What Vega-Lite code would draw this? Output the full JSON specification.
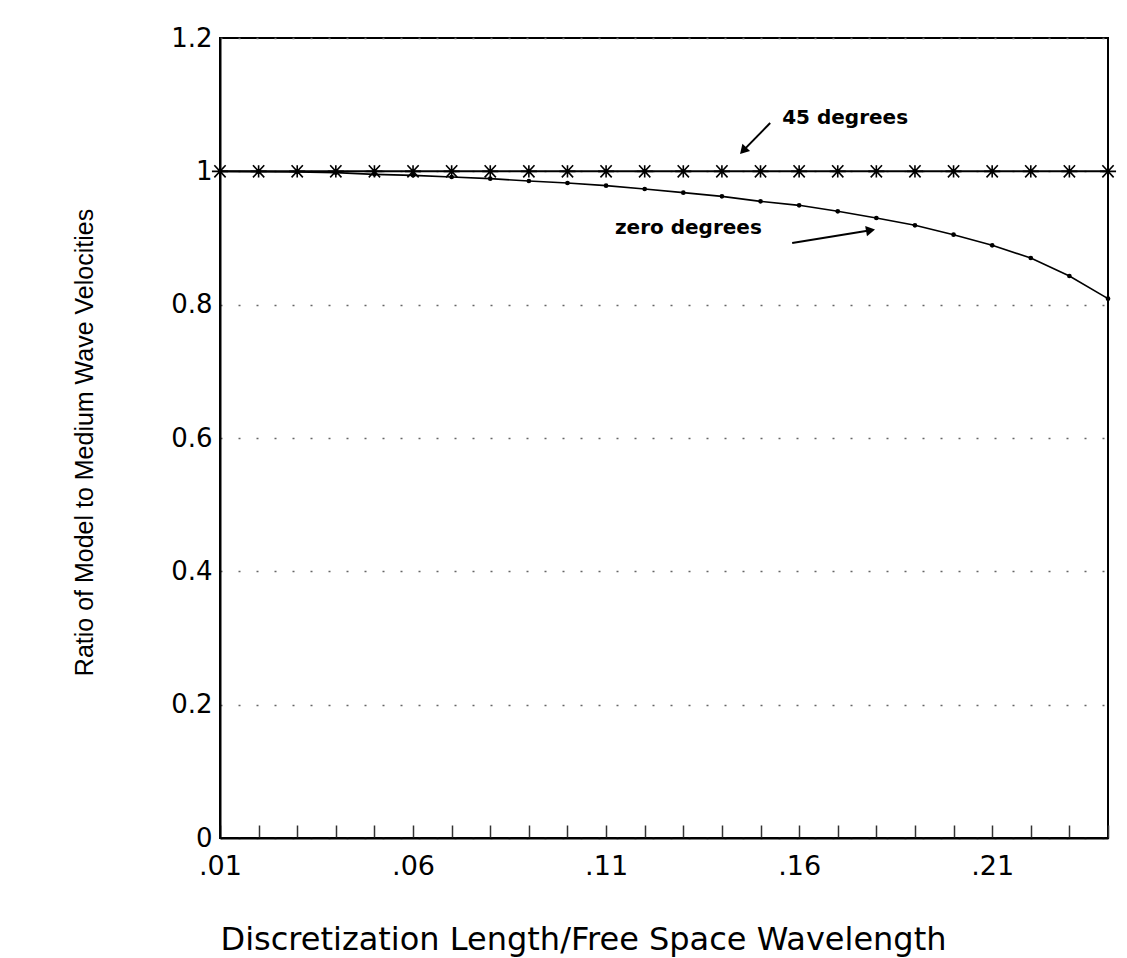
{
  "$schema": "https://vega.github.io/schema/vega-lite/v6.json",
  "width": 888,
  "height": 800,
  "autosize": {"type": "none"},
  "padding": {"left": 220, "top": 38, "right": 19, "bottom": 120},
  "background": "white",
  "config": {
    "view": {"stroke": "black", "strokeWidth": 2},
    "axis": {"domainColor": "black", "domainWidth": 2, "labelColor": "black", "titleColor": "black", "labelFont": "DejaVu Sans", "labelFontSize": 27, "titleFontWeight": "normal"}
  },
  "datasets": {
    "curves": [
      {"x": 0.01, "y": 1.0, "series": "45 degrees"},
      {"x": 0.02, "y": 1.0, "series": "45 degrees"},
      {"x": 0.03, "y": 1.0, "series": "45 degrees"},
      {"x": 0.04, "y": 1.0, "series": "45 degrees"},
      {"x": 0.05, "y": 1.0, "series": "45 degrees"},
      {"x": 0.06, "y": 1.0, "series": "45 degrees"},
      {"x": 0.07, "y": 1.0, "series": "45 degrees"},
      {"x": 0.08, "y": 1.0, "series": "45 degrees"},
      {"x": 0.09, "y": 1.0, "series": "45 degrees"},
      {"x": 0.10, "y": 1.0, "series": "45 degrees"},
      {"x": 0.11, "y": 1.0, "series": "45 degrees"},
      {"x": 0.12, "y": 1.0, "series": "45 degrees"},
      {"x": 0.13, "y": 1.0, "series": "45 degrees"},
      {"x": 0.14, "y": 1.0, "series": "45 degrees"},
      {"x": 0.15, "y": 1.0, "series": "45 degrees"},
      {"x": 0.16, "y": 1.0, "series": "45 degrees"},
      {"x": 0.17, "y": 1.0, "series": "45 degrees"},
      {"x": 0.18, "y": 1.0, "series": "45 degrees"},
      {"x": 0.19, "y": 1.0, "series": "45 degrees"},
      {"x": 0.20, "y": 1.0, "series": "45 degrees"},
      {"x": 0.21, "y": 1.0, "series": "45 degrees"},
      {"x": 0.22, "y": 1.0, "series": "45 degrees"},
      {"x": 0.23, "y": 1.0, "series": "45 degrees"},
      {"x": 0.24, "y": 1.0, "series": "45 degrees"},
      {"x": 0.01, "y": 1.0, "series": "zero degrees"},
      {"x": 0.02, "y": 0.9995, "series": "zero degrees"},
      {"x": 0.03, "y": 0.999, "series": "zero degrees"},
      {"x": 0.04, "y": 0.998, "series": "zero degrees"},
      {"x": 0.05, "y": 0.9955, "series": "zero degrees"},
      {"x": 0.06, "y": 0.994, "series": "zero degrees"},
      {"x": 0.07, "y": 0.9915, "series": "zero degrees"},
      {"x": 0.08, "y": 0.989, "series": "zero degrees"},
      {"x": 0.09, "y": 0.9855, "series": "zero degrees"},
      {"x": 0.10, "y": 0.9825, "series": "zero degrees"},
      {"x": 0.11, "y": 0.9785, "series": "zero degrees"},
      {"x": 0.12, "y": 0.9735, "series": "zero degrees"},
      {"x": 0.13, "y": 0.968, "series": "zero degrees"},
      {"x": 0.14, "y": 0.9625, "series": "zero degrees"},
      {"x": 0.15, "y": 0.955, "series": "zero degrees"},
      {"x": 0.16, "y": 0.949, "series": "zero degrees"},
      {"x": 0.17, "y": 0.94, "series": "zero degrees"},
      {"x": 0.18, "y": 0.93, "series": "zero degrees"},
      {"x": 0.19, "y": 0.919, "series": "zero degrees"},
      {"x": 0.20, "y": 0.905, "series": "zero degrees"},
      {"x": 0.21, "y": 0.889, "series": "zero degrees"},
      {"x": 0.22, "y": 0.870, "series": "zero degrees"},
      {"x": 0.23, "y": 0.843, "series": "zero degrees"},
      {"x": 0.24, "y": 0.809, "series": "zero degrees"}
    ],
    "arrows": [
      {"x": 0.1525, "y": 1.0725, "x2": 0.1455, "y2": 1.031, "angle": 223},
      {"x": 0.1582, "y": 0.8925, "x2": 0.1785, "y2": 0.9115, "angle": 80}
    ],
    "notes": [
      {"x": 0.1556, "y": 1.08, "label": "45 degrees"},
      {"x": 0.1123, "y": 0.915, "label": "zero degrees"}
    ]
  },
  "encoding": {
    "x": {
      "field": "x", "type": "quantitative",
      "scale": {"domain": [0.01, 0.24], "nice": false, "zero": false},
      "axis": {
        "values": [0.01,0.02,0.03,0.04,0.05,0.06,0.07,0.08,0.09,0.10,0.11,0.12,0.13,0.14,0.15,0.16,0.17,0.18,0.19,0.20,0.21,0.22,0.23,0.24],
        "labelExpr": "indexof(['0.01','0.06','0.11','0.16','0.21'], format(datum.value,'.2f')) >= 0 ? replace(format(datum.value,'.2f'),'0.','.') : ''",
        "tickSize": -13, "tickColor": "#333", "tickWidth": 1.5,
        "labelPadding": 28, "labelBaseline": "top", "labelFlush": false,
        "grid": false,
        "title": "Discretization Length/Free Space Wavelength",
        "titleFont": "DejaVu Sans", "titleFontSize": 32,
        "titleAnchor": "start", "titleAlign": "left", "titleX": 0, "titleY": 111, "titleBaseline": "alphabetic"
      }
    },
    "y": {
      "field": "y", "type": "quantitative",
      "scale": {"domain": [0, 1.2], "nice": false},
      "axis": {
        "values": [0, 0.2, 0.4, 0.6, 0.8, 1, 1.2],
        "format": "~g",
        "ticks": false, "labelPadding": 8, "labelFontSize": 26,
        "grid": true, "gridColor": "#666", "gridDash": [2, 16], "gridWidth": 1.5,
        "title": "Ratio of Model to Medium Wave Velocities",
        "titleFont": "Liberation Sans", "titleFontSize": 25,
        "titleAngle": -90, "titleAlign": "center", "titleBaseline": "alphabetic",
        "titleX": -128, "titleY": 404
      }
    }
  },
  "layer": [
    {
      "data": {"name": "curves"},
      "transform": [{"filter": "datum.series == '45 degrees'"}],
      "mark": {"type": "line", "color": "black", "strokeWidth": 2}
    },
    {
      "data": {"name": "curves"},
      "transform": [{"filter": "datum.series == '45 degrees'"}],
      "mark": {"type": "point", "shape": "M-1,0L1,0M-0.7,-0.75L0.7,0.75M-0.7,0.75L0.7,-0.75M0,-0.75L0,0.75", "filled": false, "stroke": "black", "strokeWidth": 1.6, "size": 260, "opacity": 1}
    },
    {
      "data": {"name": "curves"},
      "transform": [{"filter": "datum.series == 'zero degrees'"}],
      "mark": {"type": "line", "color": "black", "strokeWidth": 1.6}
    },
    {
      "data": {"name": "curves"},
      "transform": [{"filter": "datum.series == 'zero degrees'"}],
      "mark": {"type": "circle", "color": "black", "size": 22, "opacity": 1}
    },
    {
      "data": {"name": "arrows"},
      "mark": {"type": "rule", "color": "black", "strokeWidth": 2},
      "encoding": {"x2": {"field": "x2"}, "y2": {"field": "y2"}}
    },
    {
      "data": {"name": "arrows"},
      "mark": {"type": "point", "shape": "triangle-up", "filled": true, "color": "black", "size": 110, "opacity": 1},
      "encoding": {"x": {"field": "x2", "type": "quantitative"}, "y": {"field": "y2", "type": "quantitative"}, "angle": {"field": "angle", "type": "quantitative", "scale": null}}
    },
    {
      "data": {"name": "notes"},
      "mark": {"type": "text", "font": "DejaVu Sans", "fontWeight": "bold", "fontSize": 20, "align": "left", "baseline": "middle", "color": "black"},
      "encoding": {"text": {"field": "label"}}
    }
  ]
}
